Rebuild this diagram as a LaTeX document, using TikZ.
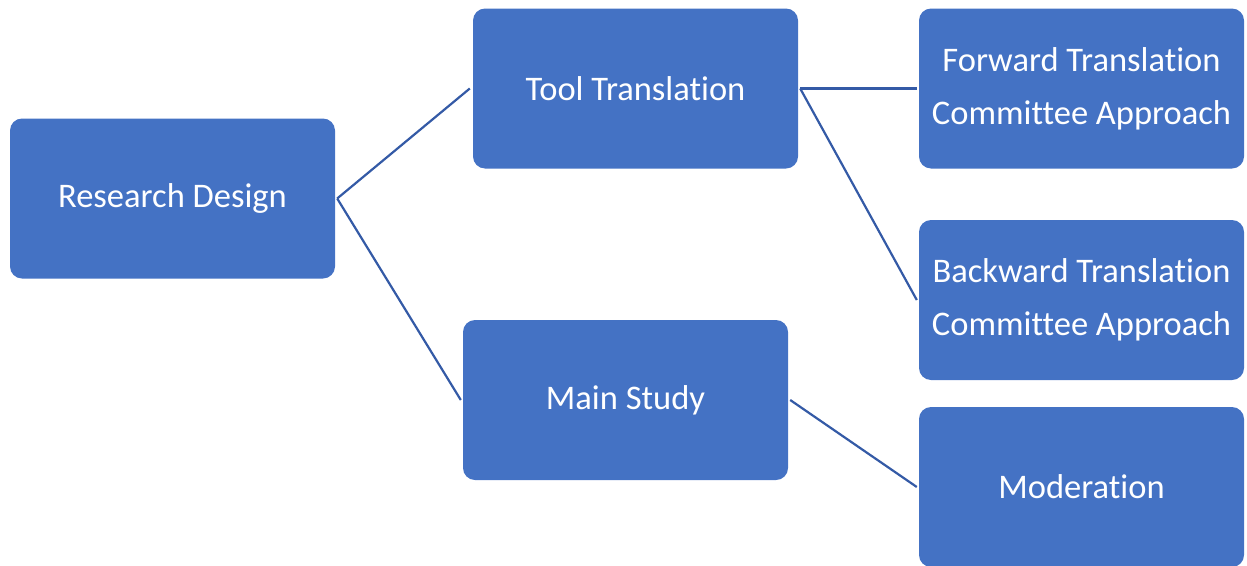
\documentclass[tikz,border=0pt]{standalone}
\usepackage{fontspec}
\setmainfont{Carlito}[Ligatures={NoCommon}]
\definecolor{boxfill}{HTML}{4472C4}
\definecolor{linkcol}{RGB}{52,90,166}
\begin{document}
\begin{tikzpicture}[x=1pt,y=-1pt,
  box/.style={draw=none,fill=boxfill,rounded corners=12pt,minimum width=325pt,minimum height=160pt,inner sep=0pt,text=white,font=\fontsize{34.5}{53}\selectfont,align=center},
  link/.style={draw=linkcol,line width=2.2pt}]
\useasboundingbox (0,0) rectangle (1247,565);
\node[box] (rd) at (172.5,198.5) {Research Design};
\node[box] (tt) at (635.5,88.5) {Tool Translation};
\node[box] (ms) at (625.5,400) {Main Study};
\node[box] (ft) at (1081.5,88.5) {Forward Translation\\Committee Approach};
\node[box] (bt) at (1081.5,300) {Backward Translation\\Committee Approach};
\node[box] (mo) at (1081.5,487) {Moderation};
\draw[link] ([xshift=2pt]rd.east) -- ([xshift=-3pt]tt.west);
\draw[link] ([xshift=2pt]rd.east) -- ([xshift=-2pt]ms.west);
\draw[link] ([xshift=2pt]tt.east) -- ([xshift=-2pt]ft.west);
\draw[link] ([xshift=2pt]tt.east) -- ([xshift=-2pt]bt.west);
\draw[link] ([xshift=2pt]ms.east) -- ([xshift=-2pt]mo.west);
\end{tikzpicture}
\end{document}
